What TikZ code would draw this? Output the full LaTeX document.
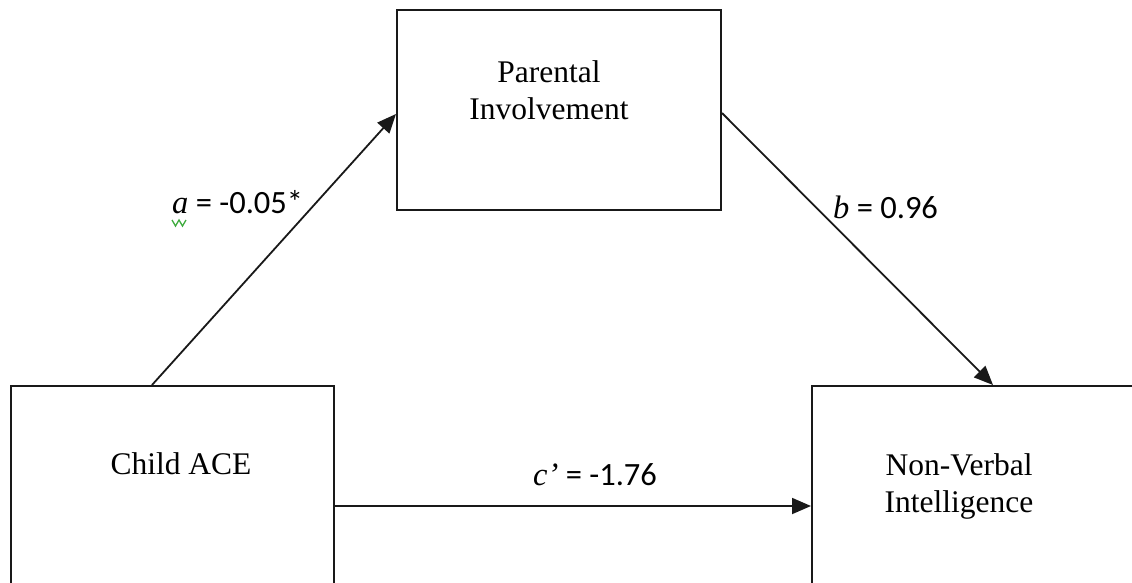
\documentclass[tikz,border=0pt]{standalone}
\usepackage{fontspec}
\setmainfont{Liberation Serif}
\newfontfamily\calib{Carlito}
\usetikzlibrary{arrows.meta}
\definecolor{squig}{RGB}{60,170,60}
\begin{document}
\begin{tikzpicture}[x=1pt,y=-1pt,
  box/.style={draw=black!90, line width=2pt, inner sep=0pt, anchor=north west, minimum height=200pt},
  boxtext/.style={font=\fontsize{31.5}{37}\selectfont, align=center, anchor=base, inner sep=0pt},
  arr/.style={draw=black!90, line width=1.8pt, -{Triangle[length=19pt,width=16pt]}},
  eq/.style={font=\fontsize{32.5}{38}\selectfont, anchor=base west, inner sep=0pt}]
\useasboundingbox (0,0) rectangle (1132,582);
\clip (0,0) rectangle (1132,582);
% boxes
\node[box, minimum width=324pt] (pi) at (396,9) {};
\node[box, minimum width=323pt] (ace) at (10,385) {};
\node[box, minimum width=330pt] (nvi) at (811,385) {};
% box texts
\node[boxtext] (pit) at (549,119) {Parental\\Involvement};
\node[boxtext] (acet) at (181,474) {Child ACE};
\node[boxtext] (nvit) at (959,512) {Non-Verbal\\Intelligence};
% connectors
\draw[arr] ([xshift=142pt]ace.north west) -- ([yshift=-4pt]pi.west);
\draw[arr] ([yshift=-3pt]pi.east) -- ([xshift=182pt]nvi.north west);
\draw[arr] ([yshift=-20pt]ace.east) -- ([yshift=-20pt]nvi.west);
% labels
\node[eq] (la) at (172,213) {\textit{a}\calib{} = -0.05*};
\draw[squig, line width=1.3pt] (172,220) -- (175.5,226) -- (179,220) -- (182.5,226) -- (186,220);
\node[eq] (lb) at (833,218) {\textit{b}\calib{} = 0.96};
\node[eq] (lc) at (533,485) {\textit{c’}\calib{} = -1.76};
\end{tikzpicture}
\end{document}
